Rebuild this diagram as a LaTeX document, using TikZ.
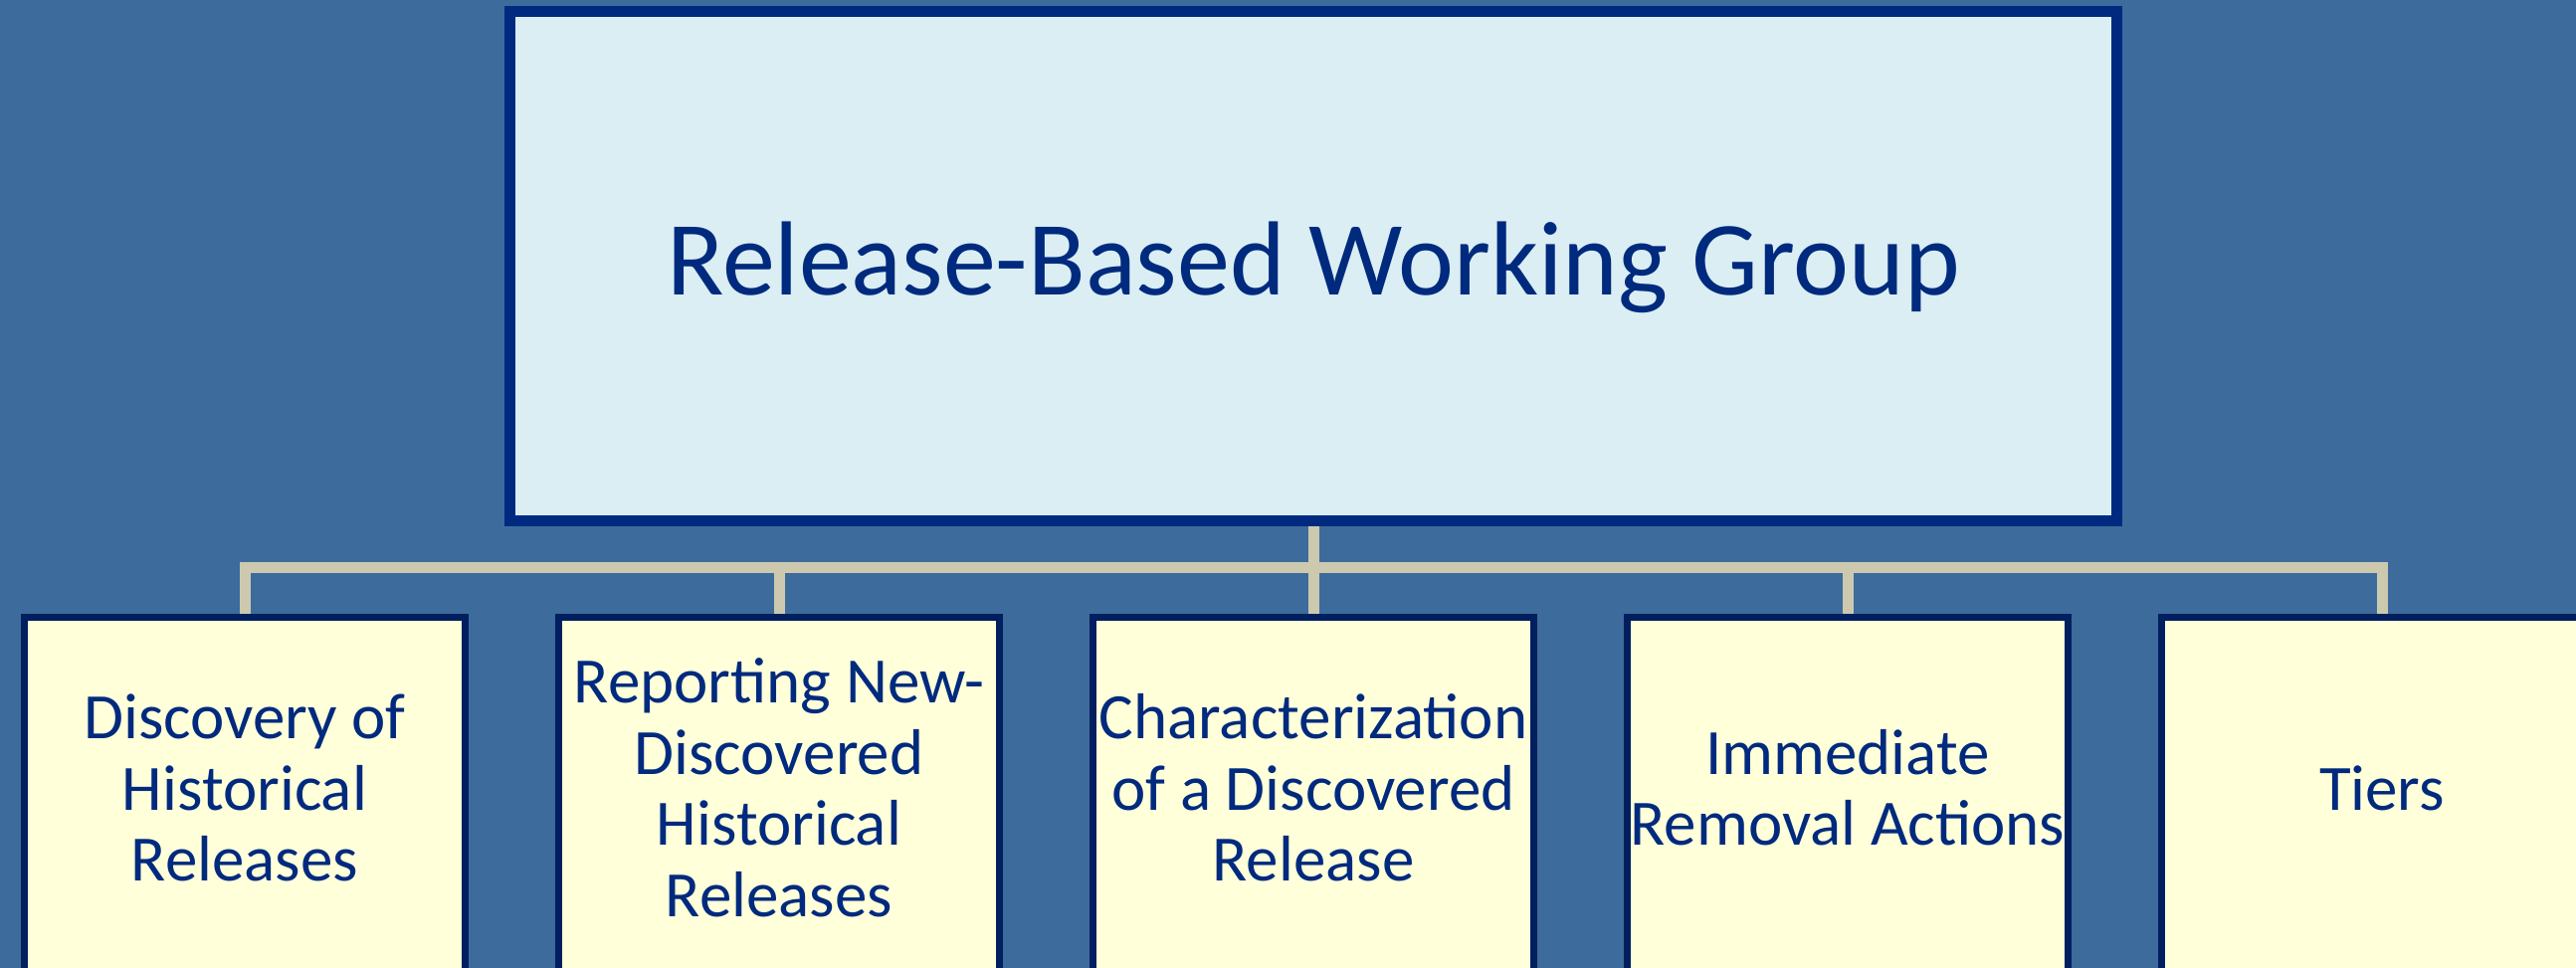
\documentclass[tikz,border=0pt]{standalone}
\usepackage{fontspec}
\setmainfont{Carlito}
\definecolor{bg}{HTML}{3D6B9C}
\definecolor{topfill}{HTML}{DAEEF3}
\definecolor{topline}{HTML}{002A7F}
\definecolor{subfill}{HTML}{FFFFDA}
\definecolor{subline}{HTML}{001F5F}
\definecolor{txt}{HTML}{002A7E}
\definecolor{conn}{HTML}{CCC9AF}
\newcommand\st{\rule[-20pt]{0pt}{70pt}}
\tikzset{
  topbox/.style={draw=topline, fill=topfill, line width=11pt, minimum width=1615pt, minimum height=512pt, inner sep=0pt},
  subbox/.style={draw=subline, fill=subfill, line width=7pt, minimum width=443pt, minimum height=440pt, inner sep=0pt, anchor=north},
  titletext/.style={text=txt, font=\fontsize{106}{116}\selectfont, inner sep=0pt, anchor=base},
  subtext/.style={text=txt, font=\fontsize{65}{71.5}\selectfont, inner sep=0pt, align=center},
  connector/.style={draw=conn, line width=11pt, line join=miter}
}
\begin{document}
\begin{tikzpicture}[x=1pt,y=-1pt]
\useasboundingbox (0,0) rectangle (2589,973);
\clip (0,0) rectangle (2589,973);
\fill[bg] (0,0) rectangle (2589,973);
\node[topbox] (top) at (1320,267.5) {};
\node[titletext] (title) at (1320,297) {Release-Based Working Group};
\coordinate (bus) at (1320,570);
\foreach \i/\x in {1/246,2/783,3/1320,4/1857,5/2394}{
  \node[subbox] (b\i) at (\x,616.5) {};
}
\draw[connector] (top.south) -- (bus);
\draw[connector] (b1.north) |- (bus) -| (b5.north);
\draw[connector] (b2.north) -- (b2.north |- bus);
\draw[connector] (b3.north) -- (b3.north |- bus);
\draw[connector] (b4.north) -- (b4.north |- bus);
\node[subtext] (t1) at (246,799) {\st Discovery of\\\st Historical\\\st Releases};
\node[subtext] (t2) at (783,799) {\st Reporting New-\\\st Discovered\\\st Historical\\\st Releases};
\node[subtext] (t3) at (1320,799) {\st Characterization\\\st of a Discovered\\\st Release};
\node[subtext] (t4) at (1857,799) {\st Immediate\\\st Removal Actions};
\node[subtext] (t5) at (2394,799) {\st Tiers};
\end{tikzpicture}
\end{document}
